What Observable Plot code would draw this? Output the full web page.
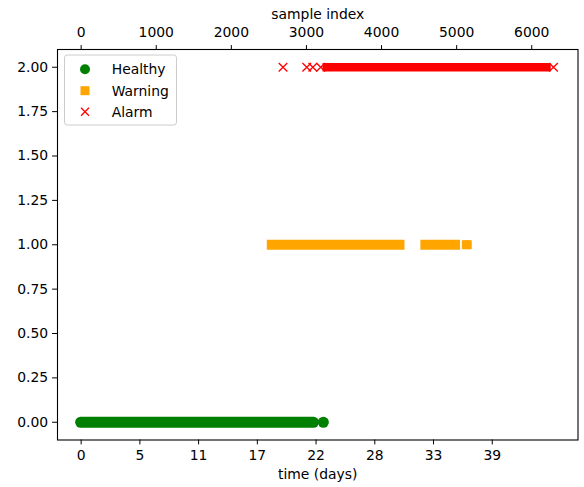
<!DOCTYPE html>
<html><head><meta charset="utf-8">
<script src="https://cdn.jsdelivr.net/npm/d3@7"></script>
<script src="https://cdn.jsdelivr.net/npm/@observablehq/plot@0.6"></script>
<style>body{margin:0;background:#fff} svg{font-family:"DejaVu Sans",sans-serif}</style>
</head><body><div id="chart"></div>
<script>
// ---- data (sample indices) ----
const classes = ["Healthy", "Warning", "Alarm"];
const levels = [0, 1, 2];
const colors = ["green", "orange", "red"];
const healthyRuns = [[0, 3100]];
const healthySingles = [3225];
const warningRuns = [[2545, 4245], [4590, 4985]];
const warningSingles = [5128, 5142];
const alarmRuns = [[3190, 6290]];
const alarmSingles = [2688, 3004, 3085];
const topTicks = [0, 1000, 2000, 3000, 4000, 5000, 6000];
const dayTickIdx = [0, 782, 1564, 2346, 3128, 3910, 4692, 5474];
const dayTickLabels = ["0", "5", "11", "17", "22", "28", "33", "39"];
const yTicks = [0, 0.25, 0.5, 0.75, 1, 1.25, 1.5, 1.75, 2];

const FS = 13.9;
const ends = runs => runs.flatMap(r => [r[0], r[1]]);

const plot = Plot.plot({
  width: 584, height: 487,
  marginLeft: 57, marginRight: 6.5, marginTop: 49, marginBottom: 47.5,
  style: {fontFamily: "DejaVu Sans", fontSize: FS + "px", color: "black", background: "white"},
  x: {domain: [-315, 6616]},
  y: {domain: [-0.1, 2.1]},
  marks: [
    // Healthy
    Plot.ruleY(healthyRuns, {y: () => levels[0], x1: d => d[0], x2: d => d[1], stroke: colors[0], strokeWidth: 11, strokeLinecap: "round"}),
    Plot.dot(healthySingles, {x: d => d, y: () => levels[0], r: 5.5, fill: colors[0], stroke: "none"}),
    // Warning
    Plot.ruleY(warningRuns, {y: () => levels[1], x1: d => d[0], x2: d => d[1], stroke: colors[1], strokeWidth: 10, strokeLinecap: "square"}),
    Plot.dot(warningSingles, {x: d => d, y: () => levels[1], r: 5, symbol: "square", fill: colors[1], stroke: "none"}),
    // Alarm
    Plot.ruleY(alarmRuns, {y: () => levels[2], x1: d => d[0] + 30, x2: d => d[1] - 30, stroke: colors[2], strokeWidth: 8.6, strokeLinecap: "butt"}),
    Plot.dot(alarmSingles.concat(ends(alarmRuns)), {x: d => d, y: () => levels[2], r: 4, symbol: "times", stroke: colors[2], strokeWidth: 1.3}),
    // axes
    Plot.axisX(topTicks, {anchor: "top", tickSize: 4.9, tickPadding: 7.5, label: null, fontSize: FS,
      tickFormat: d => String(d)}),
    Plot.axisX(dayTickIdx, {anchor: "bottom", tickSize: 4.9, tickPadding: 5.5, label: null, fontSize: FS,
      tickFormat: d => dayTickLabels[dayTickIdx.indexOf(d)]}),
    Plot.axisY(yTicks, {anchor: "left", tickSize: 4.9, tickPadding: 4.5, label: null, fontSize: FS,
      tickFormat: d3.format(".2f")}),
    Plot.text(["sample index"], {frameAnchor: "top", dy: -35, lineAnchor: "middle", fontSize: FS, fill: "black"}),
    Plot.text(["time (days)"], {frameAnchor: "bottom", dy: 34.5, lineAnchor: "middle", fontSize: FS, fill: "black"}),
    Plot.frame({stroke: "black", strokeWidth: 1.1})
  ]
});
document.getElementById("chart").appendChild(plot);

// legend (upper left, matplotlib style)
const svg = d3.select(plot);
const lg = svg.append("g").attr("text-anchor", "start");
lg.append("rect").attr("x", 64.5).attr("y", 55).attr("width", 112).attr("height", 70)
  .attr("rx", 2.8).attr("fill", "white").attr("fill-opacity", 0.8).attr("stroke", "#cccccc").attr("stroke-width", 1);
const rowsY = [69.3, 90.7, 111.7];
lg.append("circle").attr("cx", 85).attr("cy", rowsY[0]).attr("r", 5).attr("fill", colors[0]);
lg.append("rect").attr("x", 80.5).attr("y", rowsY[1] - 4.5).attr("width", 9).attr("height", 9).attr("fill", colors[1]);
lg.append("path").attr("d", `M${81},${rowsY[2]-4}L${89},${rowsY[2]+4}M${81},${rowsY[2]+4}L${89},${rowsY[2]-4}`)
  .attr("stroke", colors[2]).attr("stroke-width", 1.3).attr("fill", "none");
classes.forEach((c, i) => {
  lg.append("text").attr("x", 111.7).attr("y", rowsY[i]).attr("dy", "0.35em").attr("text-anchor", "start")
    .attr("font-size", FS).attr("fill", "black").attr("font-family", "DejaVu Sans").text(c);
});
</script>
</body></html>
